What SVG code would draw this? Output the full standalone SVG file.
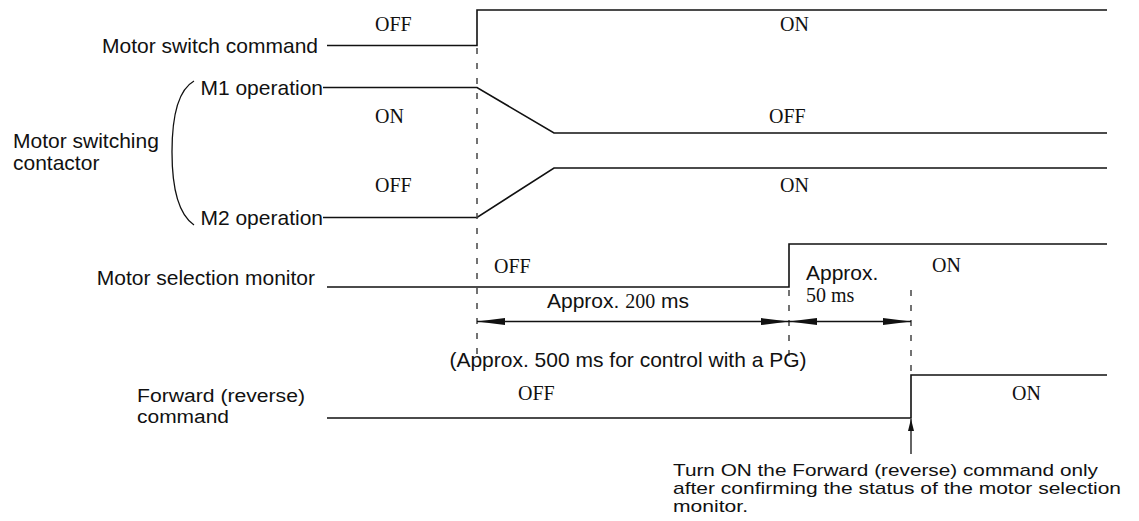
<svg xmlns="http://www.w3.org/2000/svg" width="1139" height="521" viewBox="0 0 1139 521">
<style>
.sig{fill:none;stroke:#111;stroke-width:1.6}
.dash{fill:none;stroke:#444;stroke-width:1.5;stroke-dasharray:6 9}
.dim{fill:none;stroke:#111;stroke-width:1.3}
.sans{font-family:"Liberation Sans",Arial,sans-serif;font-size:21px;fill:#111}
.sm{font-size:18px}
.note{font-size:17px}
.serif{font-family:"Liberation Serif","Times New Roman",serif;font-size:20px;fill:#111}
</style>
<defs>
<marker id="dimHead" viewBox="0 0 28 7" refX="28" refY="3.5" markerWidth="28" markerHeight="7" markerUnits="userSpaceOnUse" orient="auto-start-reverse">
<path d="M0,0 L28,3.5 L0,7 Z" fill="#111"/>
</marker>
<marker id="upHead" viewBox="0 0 12 6" refX="12" refY="3" markerWidth="12" markerHeight="6" markerUnits="userSpaceOnUse" orient="auto">
<path d="M0,0 L12,3 L0,6 Z" fill="#111"/>
</marker>
</defs>
<rect width="1139" height="521" fill="#fff"/>

<g id="motor-switch-command">
<text class="sans" x="318" y="53" text-anchor="end">Motor switch command</text>
<path class="sig" d="M327,45.5 H477 V10 H1107"/>
<text class="serif" x="375" y="31">OFF</text>
<text class="serif" x="780" y="31">ON</text>
</g>

<g id="motor-switching-contactor">
<text class="sans" x="13" y="148">Motor switching</text>
<text class="sans" x="13" y="170">contactor</text>
<path class="dim" d="M194,81 C178,90 172,118 172,152 C172,188 178,214 194,225"/>
</g>

<g id="m1-operation">
<text class="sans" x="323" y="95" text-anchor="end">M1 operation</text>
<path class="sig" d="M323,87.5 H477 L554,133 H1107"/>
<text class="serif" x="375" y="123">ON</text>
<text class="serif" x="769" y="123">OFF</text>
</g>

<g id="m2-operation">
<text class="sans" x="323" y="225" text-anchor="end">M2 operation</text>
<path class="sig" d="M323,217.5 H477 L554,168 H1107"/>
<text class="serif" x="375" y="192">OFF</text>
<text class="serif" x="780" y="192">ON</text>
</g>

<g id="motor-selection-monitor">
<text class="sans" x="315" y="285" text-anchor="end">Motor selection monitor</text>
<path class="sig" d="M327,287 H789 V244 H1107"/>
<text class="serif" x="494" y="273">OFF</text>
<text class="serif" x="932" y="272">ON</text>
</g>

<g id="forward-command">
<text class="sans sm" x="137" y="402" textLength="168" lengthAdjust="spacingAndGlyphs">Forward (reverse)</text>
<text class="sans sm" x="137" y="423" textLength="92" lengthAdjust="spacingAndGlyphs">command</text>
<path class="sig" d="M327,418 H911 V375 H1107"/>
<text class="serif" x="518" y="400">OFF</text>
<text class="serif" x="1012" y="400">ON</text>
</g>

<g id="connectors">
<line class="dash" x1="477" y1="48" x2="477" y2="356"/>
<line class="dash" x1="789" y1="290" x2="789" y2="356"/>
<line class="dash" x1="911" y1="290" x2="911" y2="375"/>
<line class="dim" x1="477" y1="321.5" x2="789" y2="321.5" marker-start="url(#dimHead)" marker-end="url(#dimHead)"/>
<line class="dim" x1="789" y1="321.5" x2="911" y2="321.5" marker-start="url(#dimHead)" marker-end="url(#dimHead)"/>
<line class="dim" x1="911" y1="454" x2="911" y2="419" marker-end="url(#upHead)"/>
</g>

<g id="annotations">
<text class="sans" x="547" y="308"><tspan>Approx. </tspan><tspan class="serif">200</tspan><tspan> ms</tspan></text>
<text class="sans" x="806" y="280">Approx.</text>
<text class="serif" x="806" y="302">50 ms</text>
<text class="sans" x="628" y="367" text-anchor="middle">(Approx. 500 ms for control with a PG)</text>
<text class="sans note" x="673" y="476" textLength="425" lengthAdjust="spacingAndGlyphs">Turn ON the Forward (reverse) command only</text>
<text class="sans note" x="673" y="494" textLength="448" lengthAdjust="spacingAndGlyphs">after confirming the status of the motor selection</text>
<text class="sans note" x="673" y="512" textLength="75" lengthAdjust="spacingAndGlyphs">monitor.</text>
</g>
</svg>
